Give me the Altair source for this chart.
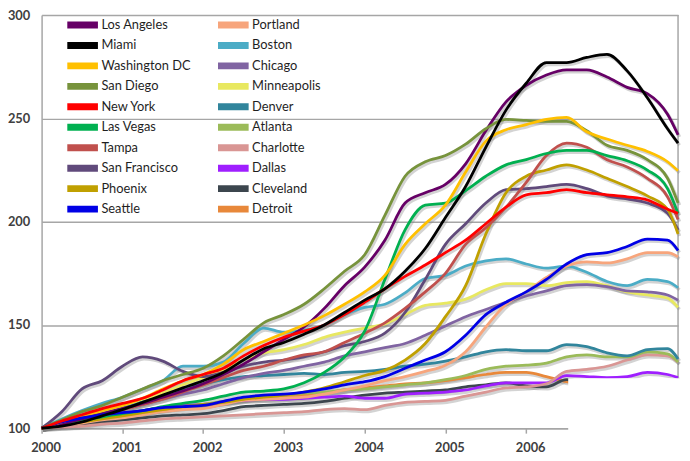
import altair as alt
import pandas as pd

years = [2000, 2000.25, 2000.5, 2000.75, 2001, 2001.25, 2001.5, 2001.75,
         2002, 2002.25, 2002.5, 2002.75, 2003, 2003.25, 2003.5, 2003.75,
         2004, 2004.25, 2004.5, 2004.75, 2005, 2005.25, 2005.5, 2005.75,
         2006, 2006.25, 2006.5, 2006.75, 2007, 2007.25, 2007.5, 2007.75,
         2007.88]

los_angeles = [100, 102, 104.5, 107, 109.5, 112, 115, 118,
               121.5, 126, 131, 137, 143, 149, 158, 169,
               178, 191, 209, 214, 218, 228, 244, 258,
               266, 271, 273.5, 273.5, 270, 265, 262, 252,
               242]
miami = [100, 101, 103, 106, 109, 112.5, 116, 119.5,
         123, 127, 133, 138.5, 141.5, 145.5, 150, 156,
         162, 167.5, 176, 187, 202, 217, 236, 254,
         267, 277, 277, 279.5, 281, 273, 260, 245,
         238]
washington = [100, 103, 106, 108.5, 111, 114.5, 119, 123,
              126, 131, 138, 142, 146, 150, 154.5, 160,
              166, 174, 189, 199, 208, 224, 239, 244.5,
              247, 249.5, 250.5, 243.5, 240, 237, 234, 229,
              224.6]
san_diego = [100, 104, 108, 111, 115, 119, 123, 126,
             129, 135, 143, 151, 155, 160, 167.5, 176,
             184, 203, 222, 229, 232, 237.5, 245, 249.5,
             249, 248.5, 248.5, 244, 237, 234.5, 230, 221,
             209]
new_york = [100, 103.5, 106.5, 109.5, 112, 114.5, 118.5, 123,
            126, 129, 135, 140, 144, 147, 150, 155,
            161, 167.5, 173.5, 179, 185, 191, 199, 207,
            213, 214, 215.5, 214, 213, 212, 210.5, 206,
            204]
las_vegas = [100, 101.5, 103.5, 105.5, 107, 108.5, 110.5, 112,
             113.5, 115.5, 117.5, 118, 119, 122, 127, 134.5,
             147, 172, 196, 208, 209, 215, 222, 227.5,
             230, 233, 234.5, 234.5, 232, 229.5, 225, 216,
             204]
tampa = [100, 102, 104, 106.5, 109, 111.5, 114, 117.5,
         121, 124.5, 128, 130, 133, 135.5, 137, 141.5,
         146, 151, 158, 166, 175, 189, 197, 207,
         219, 232, 238, 236, 230, 226.5, 221, 212,
         201]
san_francisco = [100, 108, 119, 123, 130, 134.5, 132.5, 127.5,
                 125, 127, 130, 132, 133, 134.5, 137, 140,
                 142, 146, 156, 172, 189, 199, 209, 215.5,
                 216, 217, 218, 216, 212.5, 211, 209, 204,
                 196]
phoenix = [100, 101.5, 103, 104.5, 106, 107.5, 109, 110.5,
           111.5, 112.5, 114, 115, 116, 117.5, 119.5, 122.5,
           125.5, 128, 133, 141, 154, 169, 194, 214,
           222, 225, 227.5, 225, 221, 217, 212.5, 206,
           194]
seattle = [100, 103, 105, 106.5, 107.5, 108.5, 110, 110.5,
           111, 113, 115, 116, 116.5, 117.5, 119, 121,
           122.5, 125, 129, 133, 137, 145, 155, 161,
           166, 172, 179.5, 184, 185, 188, 191.5, 191,
           186]
portland = [100, 101.5, 102.5, 104, 105, 106.5, 108, 109,
            109.5, 111.5, 113.5, 114, 114.5, 115, 116.5, 118.5,
            120.5, 123, 125, 127.5, 130.5, 137, 149, 160,
            166, 173, 178.5, 180.5, 180, 182, 185, 185,
            183]
boston = [100, 104.5, 108.5, 112, 115, 119, 123, 130,
          130, 132, 141, 148.5, 146.5, 147.5, 150, 155,
          158.5, 160, 165.5, 172.5, 174, 178.5, 181, 182,
          179.5, 177.5, 178.5, 175.5, 171, 169, 172, 171,
          168]
chicago = [100, 102.5, 105, 107, 109, 111.5, 114, 116.5,
           118.5, 121.5, 124.5, 126.5, 128, 130, 132, 135,
           137, 139, 141, 145, 149.5, 154, 157.5, 161,
           164, 166.5, 169, 169.5, 168.5, 166.5, 166, 164.5,
           162]
minneapolis = [100, 103, 106, 108.5, 111, 114, 117, 121,
               124.5, 128, 133, 136.5, 138, 140.5, 144, 146.5,
               148.5, 150.5, 155, 159.5, 160.5, 162.5, 167, 170,
               170, 169, 170.5, 171, 169, 166, 164.5, 163,
               158.5]
denver = [100, 103, 105.5, 108, 110.5, 113, 116, 119,
          121.5, 123.5, 125, 125.5, 126, 126.5, 126, 127,
          127.5, 128.5, 130, 131, 132.5, 134.5, 137, 138,
          137.5, 137.5, 140.5, 139.5, 136.5, 135, 138, 138.5,
          133.5]
atlanta = [100, 102, 103.5, 105, 106.5, 108, 109.5, 110.5,
           111.5, 113, 114, 115, 116, 117, 117.5, 118.5,
           119, 120, 121, 122, 123.5, 125.5, 128.5, 130,
           130.5, 131.5, 134.5, 135.5, 134.5, 134.5, 137, 136,
           132]
charlotte = [100, 100.5, 101, 102, 102.5, 103.5, 104.5, 105,
             105.5, 106, 106.5, 107, 107.5, 108, 109, 109.5,
             109, 111, 112.5, 113, 113.5, 115.5, 117.5, 119.5,
             120, 121.5, 127.5, 128.5, 130, 133, 135.5, 135,
             132]
dallas = [100, 102.5, 104, 105.5, 107, 108.5, 110, 111,
          111.5, 112.5, 113.5, 114, 114, 114.5, 115, 115.5,
          114.5, 114.5, 116.5, 117, 117.5, 118.5, 120.5, 122,
          122, 122, 125.5, 125, 124.5, 125, 127, 126,
          124.5]
cleveland = [100, 100.5, 101.5, 103, 104, 105, 106, 106.5,
             107, 108.5, 110.5, 111, 111.5, 112, 113, 114.5,
             116, 117, 117.5, 118, 118.5, 120, 121, 122,
             120.5, 120, 123.5, 122, 120, 119, 119, 118,
             117]
detroit = [100, 102, 103.5, 105, 106, 107.5, 109, 110,
           111, 112.5, 114, 114.5, 115, 116, 117, 118.5,
           119.5, 120.5, 121.5, 122, 123, 124.5, 126, 127,
           127, 125, 122.5, 121, 119, 117, 115, 113,
           112]

# legend order (column-major, two columns) and colours
legend_order = ["Los Angeles", "Miami", "Washington DC", "San Diego",
                "New York", "Las Vegas", "Tampa", "San Francisco",
                "Phoenix", "Seattle",
                "Portland", "Boston", "Chicago", "Minneapolis",
                "Denver", "Atlanta", "Charlotte", "Dallas",
                "Cleveland", "Detroit"]
legend_colors = ["#660066", "#000000", "#ffc000", "#77933c",
                 "#ff0000", "#00b050", "#c0504d", "#604a7b",
                 "#c0a000", "#0000e6",
                 "#f7a57c", "#4bacc6", "#8064a2", "#e8e860",
                 "#31859c", "#9bbb59", "#d99694", "#9f1fff",
                 "#3c464e", "#e8883a"]

series = {
    "Detroit": detroit, "Cleveland": cleveland, "Dallas": dallas,
    "Charlotte": charlotte, "Atlanta": atlanta, "Denver": denver,
    "Minneapolis": minneapolis, "Chicago": chicago, "Boston": boston,
    "Portland": portland, "San Francisco": san_francisco,
    "Phoenix": phoenix, "Tampa": tampa, "Las Vegas": las_vegas,
    "Los Angeles": los_angeles, "San Diego": san_diego,
    "Washington DC": washington, "Seattle": seattle,
    "New York": new_york, "Miami": miami,
}

x_ticks = [2000, 2001, 2002, 2003, 2004, 2005, 2006]
y_ticks = [100, 150, 200, 250, 300]

# right-hand frame line and the white patch hiding the lower-right corner
frame = pd.DataFrame({"x": [2007.88], "y": [100], "y2": [300]})
patch = pd.DataFrame({"x": [2006.52], "x2": [2008.4], "y": [124.2], "y2": [80]})

rows = []
for k, (city, vals) in enumerate(series.items()):
    for yr, v in zip(years, vals):
        rows.append({"city": city, "year": yr, "value": v, "draw": k})
df = pd.DataFrame(rows)

xs = alt.Scale(domain=[2000, 2007.88], nice=False, zero=False)
ys = alt.Scale(domain=[100, 300], nice=False, zero=False)

x_enc = alt.X("year:Q", scale=xs, axis=alt.Axis(
    values=x_ticks, format="d", title=None, grid=False, labelFlush=False,
    tickSize=5, tickColor="#a6a6a6", tickWidth=1.5,
    domainColor="#a6a6a6", domainWidth=1.5,
    labelFont="Lato", labelFontSize=13, labelFontWeight="bold",
    labelColor="#404040", labelPadding=9, labelOffset=4))
y_enc = alt.Y("value:Q", scale=ys, axis=alt.Axis(
    values=y_ticks, title=None, grid=True, gridColor="#a6a6a6", gridWidth=1.5,
    ticks=False, tickSize=0, domainColor="#a6a6a6", domainWidth=1.5,
    labelFont="Lato", labelFontSize=13, labelFontWeight="bold",
    labelColor="#404040", labelPadding=12))

border = alt.Chart(frame).mark_rule(color="#a6a6a6", strokeWidth=1.5).encode(
    x=alt.X("x:Q", scale=xs), y=alt.Y("y:Q", scale=ys), y2="y2")

shadow = alt.Chart(df).mark_line(
    color="#808080", opacity=0.35, strokeWidth=3.4, interpolate="monotone",
    xOffset=1.5, yOffset=2
).encode(x=x_enc, y=y_enc, detail="city:N", order="year:Q")

lines = alt.Chart(df).mark_line(strokeWidth=2.8, interpolate="monotone").encode(
    x=x_enc, y=y_enc,
    color=alt.Color("city:N", sort=legend_order,
                    scale=alt.Scale(domain=legend_order, range=legend_colors),
                    legend=alt.Legend(
                        title=None, orient="none", legendX=22.5, legendY=3,
                        columns=2, symbolType="stroke", symbolSize=961,
                        symbolStrokeWidth=7, symbolOpacity=1,
                        labelFont="Lato", labelFontSize=13, labelColor="#1f1f1f",
                        labelOffset=0, clipHeight=14, rowPadding=6.7,
                        columnPadding=23.5, padding=0)),
    order="year:Q",
)

cover = alt.Chart(patch).mark_rect(color="white").encode(
    x=alt.X("x:Q", scale=xs), x2="x2", y=alt.Y("y:Q", scale=ys), y2="y2")

chart = alt.layer(border, shadow, lines, cover).properties(
    width=644, height=418,
    padding={"left": 34, "top": 4.5, "right": 4, "bottom": 30.5},
    autosize=alt.AutoSizeParams(type="none"),
    background="white",
).configure_view(strokeOpacity=0)

chart.save("out.html", embed_options={"renderer": "svg", "actions": False})
